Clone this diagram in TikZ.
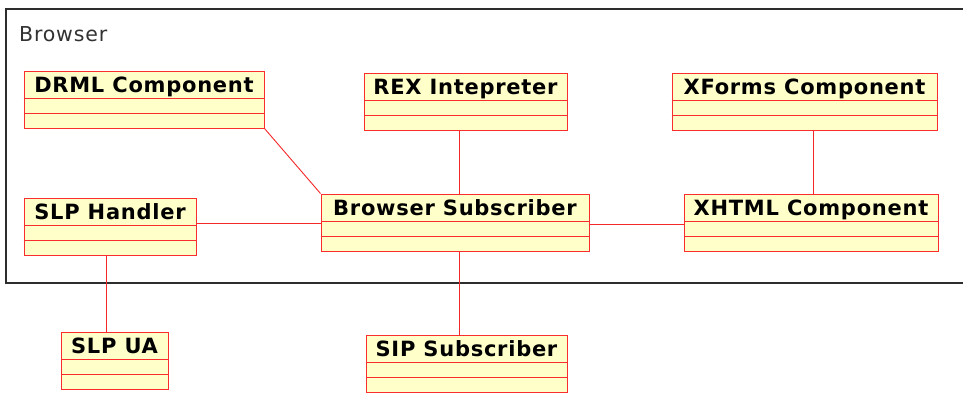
\documentclass[tikz,border=0pt]{standalone}
\usepackage{fontspec}
\usetikzlibrary{fit}
\newfontfamily\clsfont[LetterSpace=3.5]{DejaVu Sans}
\newfontfamily\pkgfont[LetterSpace=4]{DejaVu Sans}
\definecolor{clsfill}{RGB}{255,255,202}
\definecolor{clsline}{RGB}{250,45,45}
\definecolor{linkline}{RGB}{245,40,40}
\definecolor{framegray}{RGB}{45,45,45}
\definecolor{pkgtext}{RGB}{50,50,50}
\tikzset{
  umlcls/.style={draw=clsline, fill=clsfill, line width=1pt, inner sep=0pt, rectangle},
  clssep/.style={draw=clsline, line width=1pt},
  clstitle/.style={font=\clsfont\bfseries\fontsize{21}{25}\selectfont, text=black, inner sep=0pt},
  link/.style={draw=linkline, line width=0.9pt},
  pkgframe/.style={draw=framegray, line width=1.1pt},
}
% class box: name, x1, y1, x2, y2, title
\newcommand\umlclass[6]{%
  \node[umlcls, fit={(#2,#3) (#4,#5)}] (#1) {};
  \draw[clssep] ([yshift=-28pt]#1.north west) -- ([yshift=-28pt]#1.north east);
  \draw[clssep] ([yshift=-42.5pt]#1.north west) -- ([yshift=-42.5pt]#1.north east);
  \node[clstitle, anchor=base] (#1-title) at ([yshift=-21.5pt]#1.north) {#6};
}
\begin{document}
\begin{tikzpicture}[x=1pt, y=-1pt]
  \useasboundingbox (0,0) rectangle (963,394);
  \fill[white] (0,0) rectangle (963,394);

  % package frame, open to the right
  \draw[pkgframe] (963,9) -- (6,9) -- (6,283) -- (963,283);
  \node[anchor=base west, inner sep=0pt, text=pkgtext,
        font=\pkgfont\fontsize{20.5}{24}\selectfont] (pkg) at (19,41) {Browser};

  % classes
  \umlclass{drml}{24}{71}{264}{128}{DRML Component}
  \umlclass{rex}{364}{73}{567}{130}{REX Intepreter}
  \umlclass{xforms}{672}{73}{937}{130}{XForms Component}
  \umlclass{slph}{24}{198}{196}{255}{SLP Handler}
  \umlclass{bsub}{321}{194}{589}{251}{Browser Subscriber}
  \umlclass{xhtml}{684}{194}{938}{251}{XHTML Component}
  \umlclass{slpua}{61}{332}{168}{389}{SLP UA}
  \umlclass{sip}{366}{335}{567}{392}{SIP Subscriber}

  % associations
  \coordinate (cx1) at (459,0);
  \coordinate (cx2) at (813,0);
  \coordinate (cx3) at (106,0);
  \coordinate (cy1) at (0,223);
  \coordinate (cy2) at (0,224);
  \draw[link] (drml.south east) -- (bsub.north west);
  \draw[link] (rex.south -| cx1) -- (bsub.north -| cx1);
  \draw[link] (xforms.south -| cx2) -- (xhtml.north -| cx2);
  \draw[link] (slph.east |- cy1) -- (bsub.west |- cy1);
  \draw[link] (bsub.east |- cy2) -- (xhtml.west |- cy2);
  \draw[link] (slph.south -| cx3) -- (slpua.north -| cx3);
  \draw[link] (bsub.south -| cx1) -- (sip.north -| cx1);
\end{tikzpicture}
\end{document}
